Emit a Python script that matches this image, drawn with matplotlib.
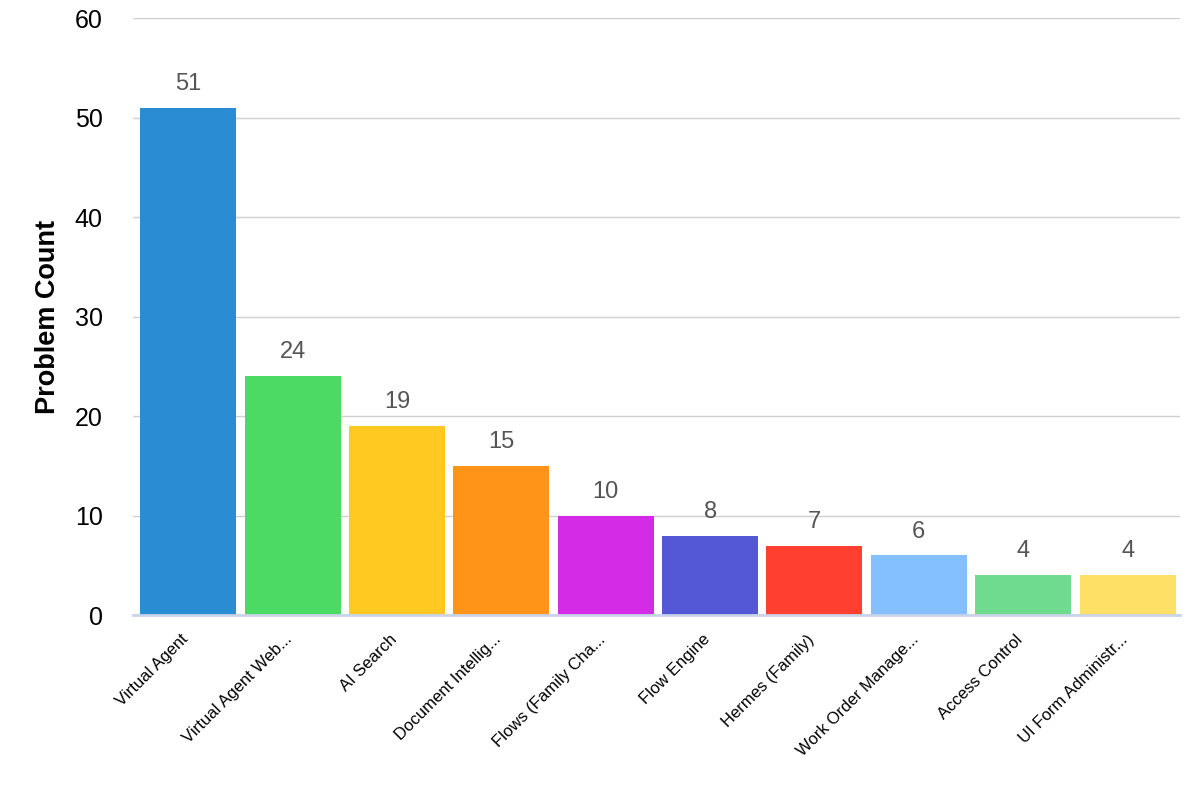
import matplotlib
matplotlib.use("Agg")
import matplotlib.pyplot as plt
import matplotlib.transforms as mtransforms

plt.rcParams['font.family'] = ['Liberation Sans', 'DejaVu Sans']

categories = ["Virtual Agent", "Virtual Agent Web...", "AI Search", "Document Intellig...",
              "Flows (Family Cha...", "Flow Engine", "Hermes (Family)", "Work Order Manage...",
              "Access Control", "UI Form Administr..."]
counts = [51, 24, 19, 15, 10, 8, 7, 6, 4, 4]
colors = ["#2a8dd4", "#4cd964", "#ffc922", "#ff9419", "#d42ce6",
          "#5558d6", "#ff4030", "#84bfff", "#6fdb8f", "#ffe066"]

fig = plt.figure(figsize=(12, 8), dpi=100)
ax = fig.add_axes([0.111, 0.231, 0.872, 0.7465])

x = range(len(categories))
ax.bar(x, counts, width=0.92, color=colors, zorder=3)

for i, v in enumerate(counts):
    ax.text(i, v + 1.3, str(v), ha="center", va="bottom", fontsize=17, color="#555555")

ax.set_ylim(0, 60)
ax.set_xlim(-0.527, 9.498)
ax.set_yticks(range(0, 61, 10))
ax.yaxis.grid(True, color="#d0d0d0", linewidth=1, zorder=0)
ax.tick_params(axis="y", length=0, labelsize=18, pad=22)
ax.tick_params(axis="x", length=0, labelsize=12, pad=12)
ax.set_xticks(list(x))
ax.set_xticklabels(categories, rotation=45, ha="right", rotation_mode="anchor")

# nudge rotated labels a bit left so they end just left of the bar centre
shift = mtransforms.ScaledTranslation(-8 / 100, 0, fig.dpi_scale_trans)
for lbl in ax.get_xticklabels():
    lbl.set_transform(lbl.get_transform() + shift)

for side in ["top", "right", "left"]:
    ax.spines[side].set_visible(False)
ax.spines["bottom"].set_color("#c8d4e8")
ax.spines["bottom"].set_linewidth(2)
ax.spines["bottom"].set_zorder(4)

ax.set_ylabel("Problem Count", fontsize=19.5, fontweight="bold", labelpad=10)

fig.savefig("out.png", dpi=100)
